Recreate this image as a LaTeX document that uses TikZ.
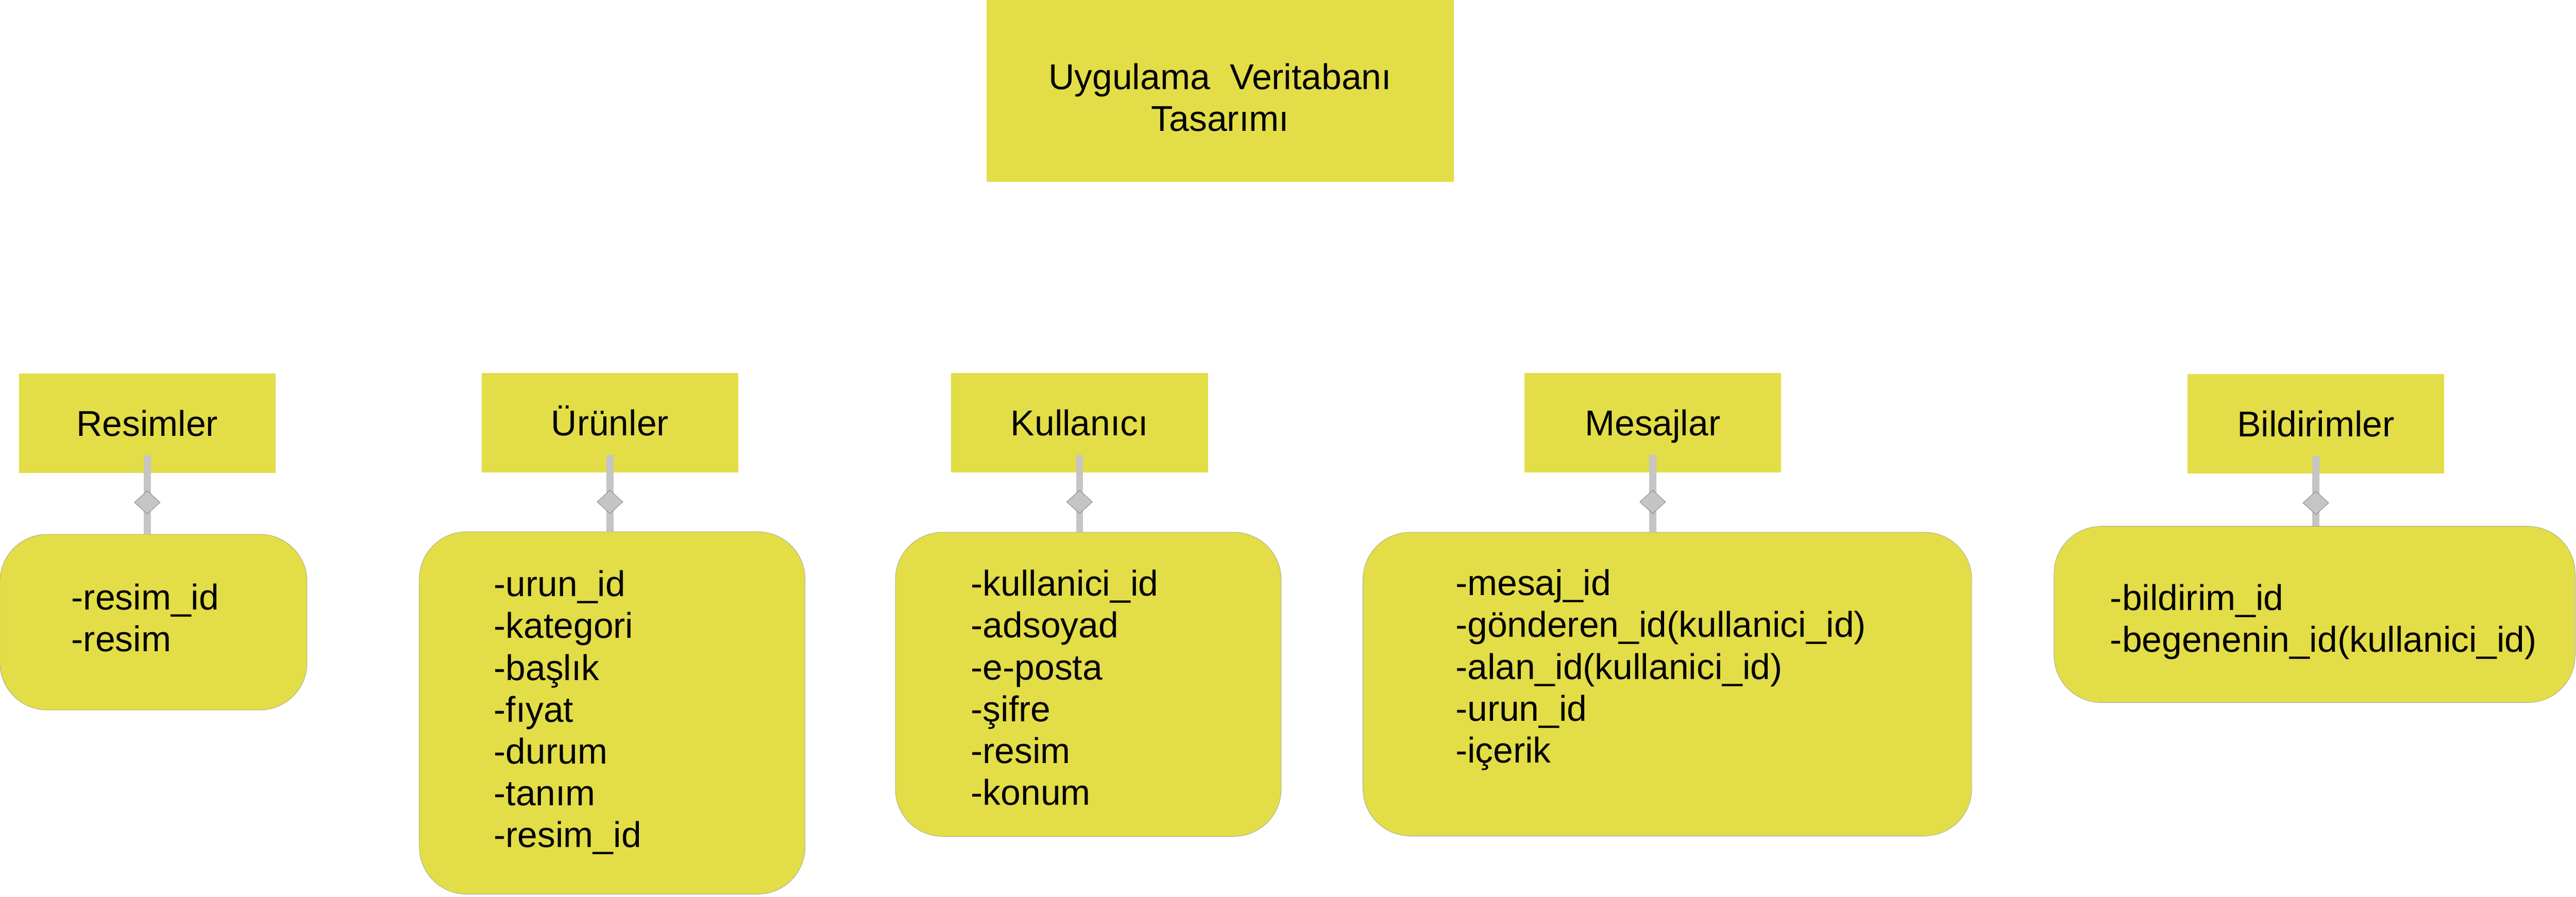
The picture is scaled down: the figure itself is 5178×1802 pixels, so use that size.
\documentclass[tikz,border=0pt]{standalone}
\usepackage{fontspec}
\setmainfont{Liberation Sans}
\usetikzlibrary{shapes.geometric}
\definecolor{ylw}{RGB}{227,221,71}
\definecolor{connc}{RGB}{197,197,197}
\newcommand{\fsz}{\fontsize{20.5pt}{23.9pt}\selectfont}
\begin{document}
\begin{tikzpicture}[x=0.01cm,y=-0.01cm,
 hdr/.style={rectangle, fill=ylw, minimum width=5.16cm, minimum height=2cm, inner sep=0pt, font=\fsz, text height=0.516cm, text depth=0pt},
 bodybox/.style={rectangle, fill=ylw, draw=black!40, line width=0.2pt, rounded corners=0.95cm, inner sep=0pt},
 lbl/.style={font=\fsz, inner sep=0pt, anchor=north west, align=left},
 connline/.style={draw=connc, line width=0.14cm},
 dia/.style={diamond, fill=connc, draw=black!55, line width=0.2pt, minimum width=0.52cm, minimum height=0.47cm, inner sep=0pt},
 titlebox/.style={rectangle, fill=ylw, inner sep=0pt, minimum width=9.39cm, minimum height=3.65cm}]
\useasboundingbox (0,0) rectangle (5178,1802);

% title
\node[titlebox] (title) at (2452.5,182.5) {};
\node[font=\fsz, inner sep=0pt, align=center] (titlelbl) at (2452.5,196) {Uygulama~~Veritabanı\\Tasarımı};

% headers
\node[hdr] (h1) at (296,851) {Resimler};
\node[hdr] (h2) at (1226,850) {Ürünler};
\node[hdr] (h3) at (2170,850) {Kullanıcı};
\node[hdr] (h4) at (3322,850) {Mesajlar};
\node[hdr] (h5) at (4655,852) {Bildirimler};

% bodies
\node[bodybox, minimum width=6.17cm, minimum height=3.53cm] (b1) at (308.5,1250.5) {};
\node[bodybox, minimum width=7.75cm, minimum height=7.28cm] (b2) at (1230.5,1433) {};
\node[bodybox, minimum width=7.75cm, minimum height=6.11cm] (b3) at (2187.5,1375.5) {};
\node[bodybox, minimum width=12.23cm, minimum height=6.10cm] (b4) at (3351.5,1375) {};
\node[bodybox, minimum width=10.47cm, minimum height=3.54cm] (b5) at (4652.5,1235) {};

% body texts
\node[lbl] (t1) at (143,1173) {-resim\_id\\-resim};
\node[lbl] (t2) at (992,1146) {-urun\_id\\-kategori\\-başlık\\-fıyat\\-durum\\-tanım\\-resim\_id};
\node[lbl] (t3) at (1951,1145) {-kullanici\_id\\-adsoyad\\-e-posta\\-şifre\\-resim\\-konum};
\node[lbl] (t4) at (2925,1144) {-mesaj\_id\\-gönderen\_id(kullanici\_id)\\-alan\_id(kullanici\_id)\\-urun\_id\\-içerik};
\node[lbl] (t5) at (4241,1174) {-bildirim\_id\\-begenenin\_id(kullanici\_id)};

% connectors
\foreach \i in {1,...,5}{
  \coordinate (c\i) at ([yshift=-0.58cm]h\i.south);
  \draw[connline] ([yshift=0.36cm]h\i.south) -- (c\i) -- (c\i |- b\i.north);
  \node[dia] (d\i) at (c\i) {};
}
\end{tikzpicture}
\end{document}
